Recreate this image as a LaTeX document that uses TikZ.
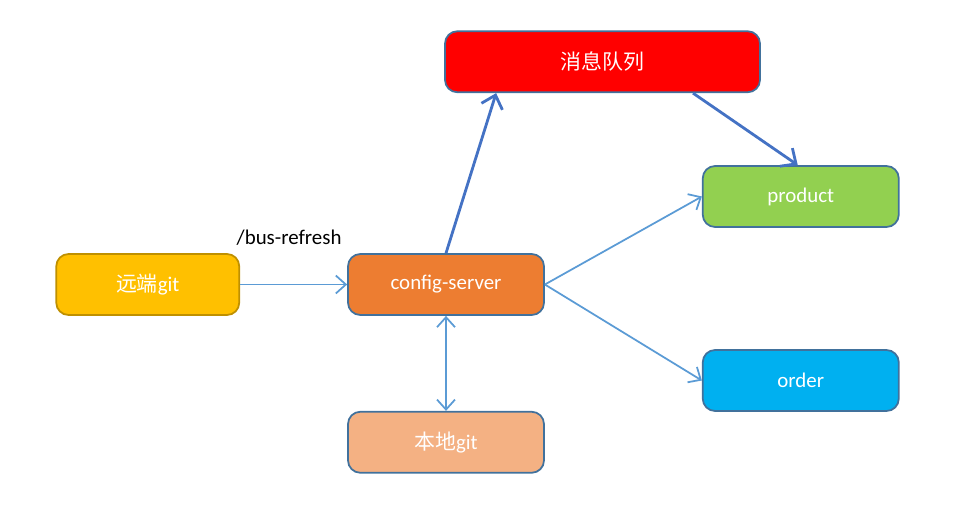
\documentclass[tikz,border=0pt]{standalone}
\usepackage{fontspec}
\setmainfont{Carlito}
\newfontfamily\cjk{Noto Sans CJK SC}
\usepackage{xcolor}
\usepackage{tikz}
\usetikzlibrary{positioning, arrows.meta}
\definecolor{boxline}{HTML}{41719C}
\definecolor{goldline}{HTML}{BF9000}
\definecolor{thinblue}{HTML}{5B9BD5}
\definecolor{thickblue}{HTML}{4472C4}
\tikzstyle{service} = [rectangle, rounded corners=7pt, minimum width=3.92cm, minimum height=1.22cm, text centered, draw=boxline, line width=1pt, text=white, font=\fontsize{11.9}{14}\selectfont]
\tikzstyle{arrow} = [draw=thinblue, line width=1pt, -{Straight Barb[length=2mm, width=3.6mm]}]
\tikzstyle{bigarrow} = [draw=thickblue, line width=1.6pt, -{Straight Barb[length=2.4mm, width=4.4mm]}]

\begin{document}
\begin{tikzpicture}[node distance=2.14cm]
        \useasboundingbox (0,0) rectangle (19.38,-10.36);

        % Config Server
        \node (cfg) [service, fill={rgb,255:red,237;green,125;blue,49}] at (8.92,-5.69) {config-server};

        % Git Repositories
        \node (remote) [service, fill={rgb,255:red,255;green,192;blue,0}, draw=goldline, minimum width=3.66cm, left=of cfg] {{\cjk 远端}git};
        \node (local) [service, fill={rgb,255:red,244;green,177;blue,131}, below=1.9cm of cfg] {{\cjk 本地}git};

        % Message Queue
        \node (mq) [service, fill=red, minimum width=6.3cm, anchor=south west] at ([xshift=1.94cm, yshift=3.2cm]cfg.north west) {\cjk 消息队列};

        % Services
        \node (product) [service, fill={rgb,255:red,146;green,208;blue,80}, right=3.14cm of cfg, yshift=1.76cm] {product};
        \node (order) [service, fill={rgb,255:red,0;green,176;blue,240}, right=3.14cm of cfg, yshift=-1.92cm] {order};

        % Arrows
        \draw [arrow] (remote) -- node (busref) [above=0.64cm, xshift=-0.09cm, text=black, font=\fontsize{11.9}{14}\selectfont] {/bus-refresh} (cfg);
        \draw [arrow, {Straight Barb[length=2mm, width=3.6mm]}-{Straight Barb[length=2mm, width=3.6mm]}] (local) -- (cfg);

        \draw [arrow] (cfg.east) -- (product.west);
        \draw [arrow] (cfg.east) -- (order.west);

        \draw [bigarrow] (cfg.north) -- ([xshift=1.04cm]mq.south west);
        \draw [bigarrow] ([xshift=1.81cm]mq.south) -- ([xshift=-0.06cm]product.north);

    \end{tikzpicture}
\end{document}
